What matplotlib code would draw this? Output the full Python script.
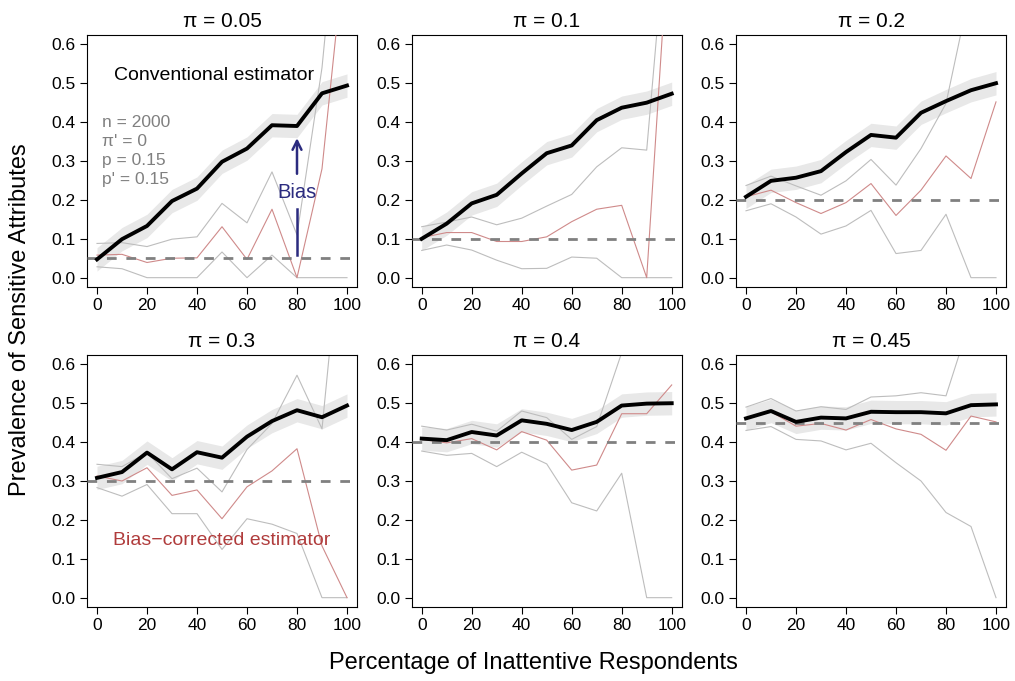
import matplotlib
matplotlib.use("Agg")
import matplotlib.pyplot as plt

plt.rcParams["font.family"] = ["Liberation Sans", "DejaVu Sans"]

# percentage of inattentive respondents
pct = [0, 10, 20, 30, 40, 50, 60, 70, 80, 90, 100]

pi_values = [0.05, 0.1, 0.2, 0.3, 0.4, 0.45]
titles = ["π = 0.05", "π = 0.1", "π = 0.2", "π = 0.3", "π = 0.4", "π = 0.45"]

# conventional estimator (black)
conv = [
    [0.047, 0.099, 0.133, 0.197, 0.229, 0.298, 0.332, 0.392, 0.390, 0.474, 0.494],
    [0.100, 0.139, 0.191, 0.213, 0.268, 0.320, 0.340, 0.405, 0.437, 0.450, 0.473],
    [0.208, 0.249, 0.257, 0.274, 0.323, 0.367, 0.360, 0.424, 0.454, 0.482, 0.500],
    [0.308, 0.323, 0.373, 0.330, 0.374, 0.360, 0.414, 0.454, 0.482, 0.464, 0.494],
    [0.409, 0.405, 0.426, 0.417, 0.456, 0.447, 0.431, 0.452, 0.494, 0.499, 0.500],
    [0.461, 0.480, 0.452, 0.463, 0.461, 0.478, 0.477, 0.477, 0.474, 0.495, 0.497],
]
BAND_HALF = 0.03

# bias-corrected estimator (red) with its upper / lower bounds (gray)
corrected = [
    [0.058, 0.060, 0.039, 0.050, 0.051, 0.131, 0.047, 0.176, 0.000, 0.280, 0.900],
    [0.103, 0.116, 0.116, 0.093, 0.093, 0.105, 0.144, 0.176, 0.186, 0.000, 1.000],
    [0.208, 0.225, 0.193, 0.165, 0.193, 0.242, 0.160, 0.225, 0.313, 0.255, 0.452],
    [0.313, 0.300, 0.334, 0.263, 0.277, 0.203, 0.285, 0.326, 0.383, 0.133, 0.000],
    [0.407, 0.398, 0.409, 0.380, 0.427, 0.405, 0.328, 0.341, 0.473, 0.473, 0.547],
    [0.461, 0.478, 0.441, 0.448, 0.431, 0.458, 0.434, 0.420, 0.379, 0.467, 0.452],
]
upper = [
    [0.088, 0.090, 0.080, 0.099, 0.105, 0.191, 0.141, 0.272, 0.110, 0.540, 1.200],
    [0.131, 0.143, 0.156, 0.136, 0.153, 0.184, 0.214, 0.285, 0.334, 0.328, 1.070],
    [0.237, 0.261, 0.236, 0.212, 0.249, 0.304, 0.238, 0.332, 0.448, 0.750, 1.000],
    [0.343, 0.337, 0.373, 0.306, 0.333, 0.272, 0.381, 0.448, 0.572, 0.434, 1.090],
    [0.441, 0.431, 0.446, 0.428, 0.480, 0.463, 0.407, 0.440, 0.630, 1.000, 1.200],
    [0.490, 0.512, 0.480, 0.491, 0.484, 0.516, 0.519, 0.527, 0.519, 0.720, 1.000],
]
lower = [
    [0.028, 0.023, 0.000, 0.000, 0.000, 0.066, 0.000, 0.058, 0.000, 0.000, 0.000],
    [0.070, 0.084, 0.071, 0.045, 0.023, 0.024, 0.053, 0.050, 0.000, 0.000, 0.000],
    [0.172, 0.190, 0.156, 0.112, 0.133, 0.173, 0.062, 0.070, 0.163, 0.000, 0.000],
    [0.283, 0.261, 0.291, 0.216, 0.216, 0.124, 0.203, 0.189, 0.165, 0.000, 0.000],
    [0.377, 0.366, 0.371, 0.337, 0.374, 0.344, 0.244, 0.223, 0.320, 0.000, 0.000],
    [0.430, 0.440, 0.407, 0.403, 0.380, 0.397, 0.347, 0.300, 0.219, 0.183, 0.000],
]

W, H = 1015, 681
fig = plt.figure(figsize=(W / 100, H / 100), dpi=100)

lefts = [87, 411.7, 736]
tops = [35, 355]
aw, ah = 270, 252

for i in range(6):
    row, col = divmod(i, 3)
    ax = fig.add_axes([lefts[col] / W, 1 - (tops[row] + ah) / H, aw / W, ah / H])

    lo_band = [v - BAND_HALF for v in conv[i]]
    hi_band = [v + BAND_HALF for v in conv[i]]
    ax.fill_between(pct, lo_band, hi_band, color="#e8e8e8", lw=0, zorder=1)

    ax.plot(pct, upper[i], color="#bdbdbd", lw=0.8, zorder=2)
    ax.plot(pct, lower[i], color="#bdbdbd", lw=0.8, zorder=2)
    ax.plot(pct, corrected[i], color="#cf8a8a", lw=0.8, zorder=3)

    ax.axhline(pi_values[i], color="#808080", lw=2, dashes=(3.5, 3.5), zorder=4)
    ax.plot(pct, conv[i], color="black", lw=2.8, zorder=5)

    ax.set_xlim(-4, 104)
    ax.set_ylim(-0.024, 0.624)
    ax.set_xticks([0, 20, 40, 60, 80, 100])
    ax.set_yticks([0.0, 0.1, 0.2, 0.3, 0.4, 0.5, 0.6])
    ax.set_yticklabels(["0.0", "0.1", "0.2", "0.3", "0.4", "0.5", "0.6"])
    ax.tick_params(direction="out", length=5, width=0.8, labelsize=12.5, pad=3)
    for s in ax.spines.values():
        s.set_linewidth(0.8)
    ax.set_title(titles[i], fontsize=15, pad=6)

    if i == 0:
        ax.text(47, 0.52, "Conventional estimator", fontsize=14,
                ha="center", va="center", zorder=6)
        info = ["n = 2000", "π' = 0", "p = 0.15", "p' = 0.15"]
        for k, line in enumerate(info):
            ax.text(2, 0.40 - 0.049 * k, line, fontsize=12.5, color="#808080",
                    ha="left", va="center", zorder=6)
        # bias arrow
        ax.plot([80, 80], [0.057, 0.176], color="#2b2b7f", lw=1.8, zorder=6)
        ax.annotate("", xy=(80, 0.366), xytext=(80, 0.26),
                    arrowprops=dict(arrowstyle="->", color="#2b2b7f", lw=1.8,
                                    mutation_scale=16), zorder=6)
        ax.text(80, 0.218, "Bias", fontsize=14.5, color="#2b2b7f",
                ha="center", va="center", zorder=6)
    if i == 3:
        ax.text(50, 0.148, "Bias\u2212corrected estimator", fontsize=14,
                color="#b03c3c", ha="center", va="center", zorder=6)

fig.text(20 / W, 1 - 320 / H, "Prevalence of Sensitive Attributes",
         rotation=90, fontsize=17, ha="center", va="center")
fig.text(533 / W, 1 - 663 / H, "Percentage of Inattentive Respondents",
         fontsize=17, ha="center", va="center")

fig.savefig("out.png", dpi=100)
